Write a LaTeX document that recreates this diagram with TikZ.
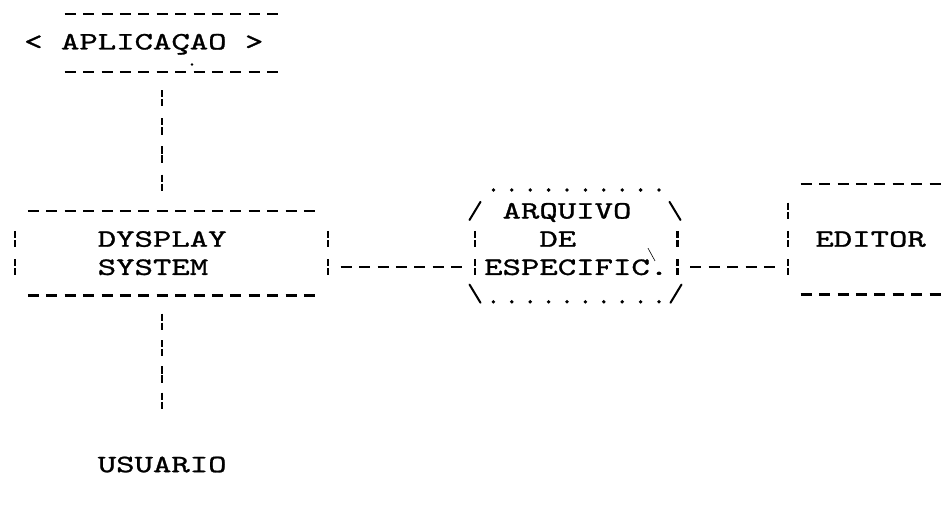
\documentclass[tikz,border=0pt]{standalone}
\usepackage{fontspec}
\newfontfamily\twfont{lmmono10-regular.otf}[FakeStretch=1.402,FakeBold=1.1]
\begin{document}
\begin{tikzpicture}[x=1pt,y=-0.90909pt,
  tw/.style={font=\twfont\fontsize{25}{28}\selectfont, inner sep=0pt, outer sep=0pt, anchor=base west},
  dashrow/.style={line width=2.1pt, dash pattern=on 11pt off 7.4pt},
  barcol/.style={line width=2.4pt, dash pattern=on 7.3pt off 1.8pt on 7.3pt off 11.78pt},
  barcollow/.style={line width=2.4pt, dash pattern=on 7.3pt off 1.8pt on 7.3pt off 9.96pt},
  slashline/.style={line width=2pt, line cap=round},
  typedot/.style={fill=black}
]
\fill[white] (0,0) rectangle (942,570.9);
\useasboundingbox (0,0) rectangle (942,570.9);

% ---- text labels
\node[tw] (apl) at (24.2,54.4) {< APLICAÇAO >};
\node[tw] (dys) at (97.8,271.4) {DYSPLAY};
\node[tw] (sys) at (97.8,302.4) {SYSTEM};
\node[tw] (arq) at (502.6,240.4) {ARQUIVO};
\node[tw] (de)  at (539.4,271.4) {DE};
\node[tw] (esp) at (484.2,302.4) {ESPECIFIC.};
\node[tw] (edi) at (815.4,271.4) {EDITOR};
\node[tw] (usu) at (97.8,519.4) {USUARIO};

% ---- APLICACAO box
\coordinate (aplTL) at (64.7,15);  \coordinate (aplTR) at (278.1,15);
\coordinate (aplBL) at (64.7,79);  \coordinate (aplBR) at (278.1,79);
\draw[dashrow] (aplTL) -- (aplTR);
\draw[dashrow] (aplBL) -- (aplBR);

% ---- connector APLICACAO -> DYSPLAY
\coordinate (v1a) at (162.2,99); \coordinate (v1b) at (162.2,210);
\draw[barcol] (v1a) -- (v1b);

% ---- DYSPLAY box
\coordinate (dTL) at (27.9,232);  \coordinate (dTR) at (314.9,232);
\coordinate (dBL) at (27.9,325);  \coordinate (dBR) at (314.9,325);
\draw[dashrow] (dTL) -- (dTR);
\draw[dashrow] (dBL) -- (dBR);
\coordinate (dL1) at (15,254);    \coordinate (dL2) at (15,303);
\coordinate (dR1) at (327.8,254); \coordinate (dR2) at (327.8,303);
\draw[barcol] (dL1) -- (dL2);
\draw[barcol] (dR1) -- (dR2);

% ---- connector DYSPLAY -> USUARIO
\coordinate (v2a) at (162.2,345); \coordinate (v2b) at (162.2,450);
\draw[barcollow] (v2a) -- (v2b);

% ---- connector DYSPLAY -> ARQUIVO
\coordinate (h1a) at (340.7,294); \coordinate (h1b) at (462.1,294);
\draw[dashrow] (h1a) -- (h1b);

% ---- ARQUIVO DE ESPECIFIC. (hexagon of typed characters)
\foreach \i in {0,...,9} {\fill[typedot] ({493.4+18.4*\i},209) circle (1.9pt);}
\foreach \i in {0,...,9} {\fill[typedot] ({493.4+18.4*\i},332) circle (1.9pt);}
\coordinate (aS1) at (469.5,242); \coordinate (aS2) at (480.5,222);
\coordinate (aS3) at (669.5,222); \coordinate (aS4) at (680.5,242);
\coordinate (aS5) at (469.5,313); \coordinate (aS6) at (480.5,333);
\coordinate (aS7) at (670.5,333); \coordinate (aS8) at (681.5,313);
\draw[slashline] (aS1) -- (aS2);
\draw[slashline] (aS3) -- (aS4);
\draw[slashline] (aS5) -- (aS6);
\draw[slashline] (aS7) -- (aS8);
\coordinate (aL1) at (475,254);   \coordinate (aL2) at (475,303);
\coordinate (aR1) at (677.4,254); \coordinate (aR2) at (677.4,303);
\draw[barcol] (aL1) -- (aL2);
\draw[barcol] (aR1) -- (aR2);

% ---- connector ARQUIVO -> EDITOR
\coordinate (h2a) at (690.3,294); \coordinate (h2b) at (774.9,294);
\draw[dashrow] (h2a) -- (h2b);

% ---- EDITOR box (open to the right edge)
\coordinate (eTL) at (800.7,202); \coordinate (eTR) at (940.5,202);
\coordinate (eBL) at (800.7,324); \coordinate (eBR) at (940.5,324);
\draw[dashrow] (eTL) -- (eTR);
\draw[dashrow] (eBL) -- (eBR);
\coordinate (eL1) at (787.8,223); \coordinate (eL2) at (787.8,303);
\draw[barcol] (eL1) -- (eL2);

% ---- stray typewriter marks
\coordinate (st1) at (648,273); \coordinate (st2) at (655,287);
\draw[line width=0.6pt] (st1) -- (st2);
\fill (192,71) circle (1.4pt);
\end{tikzpicture}
\end{document}
